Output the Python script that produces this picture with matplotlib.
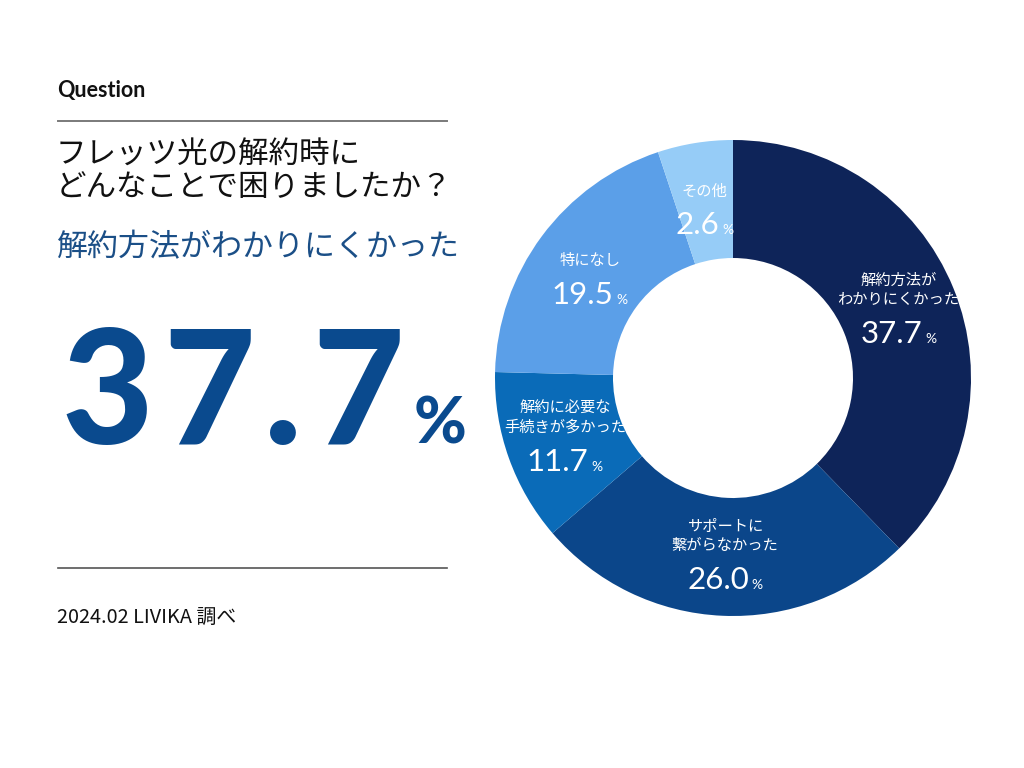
import numpy as np
import matplotlib
matplotlib.use("Agg")
import matplotlib.pyplot as plt
from matplotlib.transforms import IdentityTransform

plt.rcParams['font.family'] = ['Noto Sans CJK JP', 'DejaVu Sans']

# ---------------------------------
# Data
# ---------------------------------
labels = ["解約方法が\nわかりにくかった", "サポートに\n繋がらなかった",
          "解約に必要な\n手続きが多かった", "特になし", "その他"]
values = [37.7, 26.0, 11.7, 19.5, 2.6]
colors = ["#0e2459", "#0b468a", "#0a6bb8", "#5b9fe8", "#96ccf7"]

# the last wedge in the picture fills the rest of the ring
sizes = values[:-1] + [100 - sum(values[:-1])]

title_lines = "フレッツ光の解約時に\nどんなことで困りましたか？"
highlight = "解約方法がわかりにくかった"
top_value = values[0]
source = "2024.02 LIVIKA 調べ"

fig = plt.figure(figsize=(10.24, 7.68), dpi=100)
fig.patch.set_facecolor("white")

# full-figure axes in pixel units for the text panel
bg = fig.add_axes([0, 0, 1, 1])
bg.set_xlim(0, 1024)
bg.set_ylim(768, 0)
bg.axis("off")

bg.text(57, 90, "Question", family=["Lato", "DejaVu Sans"], fontweight="bold",
        fontsize=15.5, va="center", ha="left", color="#111111")
bg.plot([58, 447], [121, 121], color="#7a7a7a", lw=1.4)
bg.text(56, 171, title_lines, fontsize=22, va="center", ha="left",
        color="#111111", linespacing=1.05)
bg.text(56, 248, highlight, fontsize=22.3, va="center", ha="left", color="#1b4f87")
bg.plot([58, 447], [568, 568], color="#555555", lw=1.2)
bg.text(57, 617, source, fontsize=14.3, va="center", ha="left", color="#111111")

# ---------------------------------
# Donut
# ---------------------------------
ax = fig.add_axes([493 / 1024, 150 / 768, 480 / 1024, 480 / 768])
wedges, _ = ax.pie(sizes, colors=colors, startangle=90, counterclock=False,
                   radius=238 / 240, wedgeprops=dict(width=118 / 240, edgecolor="none"))
ax.set_xlim(-1, 1)
ax.set_ylim(-1, 1)
ax.set_aspect("equal")
ax.axis("off")

fig.canvas.draw()
renderer = fig.canvas.get_renderer()

# big headline number, drawn glyph by glyph for the wide letter spacing
x_cur = 61
base_y = 768 - 444
for ch in f"{top_value:.1f}":
    t = fig.text(0, 0, ch, family=["Lato", "DejaVu Sans"], fontweight="black",
                 fontsize=114, va="baseline", ha="left", color="#0a4a8e",
                 transform=IdentityTransform())
    t.set_position((x_cur, base_y))
    x_cur = t.get_window_extent(renderer).x1 + 10
pct_big = fig.text(0, 0, "%", family=["Lato", "DejaVu Sans"], fontweight="black",
                   fontsize=46, va="baseline", ha="left", color="#0a4a8e",
                   transform=IdentityTransform())
pct_big.set_position((x_cur, 768 - 443))

r_lab = 0.75 * 238 / 240
for w, lab, v in zip(wedges, labels, values):
    mid = np.deg2rad((w.theta1 + w.theta2) / 2)
    cx, cy = r_lab * np.cos(mid), r_lab * np.sin(mid)
    ax.text(cx, cy + 0.01, lab, fontsize=11, ha="center", va="bottom",
            color="white", linespacing=1.15)
    num = ax.text(cx - 0.03, cy - 0.04, f"{v:.1f}", family=["Lato", "DejaVu Sans"],
                  fontsize=22.5, ha="center", va="top", color="white")
    nb = num.get_window_extent(renderer)
    pct = ax.text(0, 0, "%", family=["Lato", "DejaVu Sans"], fontsize=10,
                  ha="left", va="bottom", color="white",
                  transform=IdentityTransform())
    pct.set_position((nb.x1 + 3, nb.y0 + 3))

fig.savefig("out.png", dpi=100, facecolor="white")
